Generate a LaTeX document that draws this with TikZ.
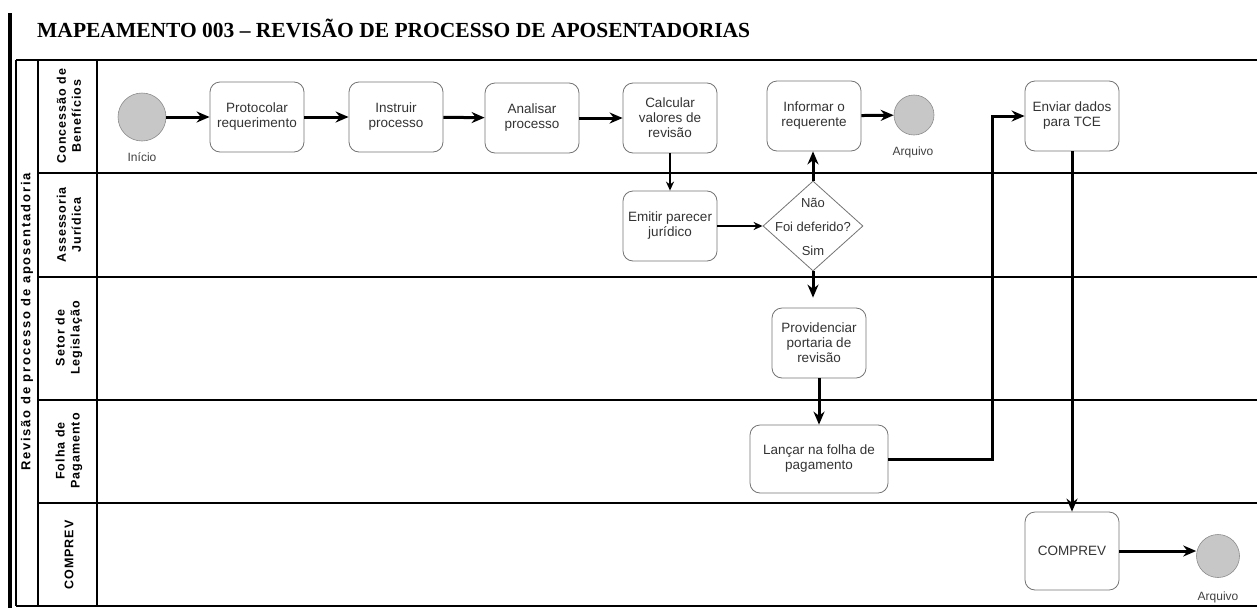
\documentclass[tikz,border=0pt]{standalone}
\usepackage{fontspec}
\setmainfont{Liberation Serif}
\newfontfamily\sansf{Liberation Sans}
\newfontfamily\lanef[LetterSpace=8]{Liberation Sans}
\newfontfamily\poolf[LetterSpace=14]{Liberation Sans}
\usetikzlibrary{shapes.geometric,arrows.meta}
\begin{document}
\begin{tikzpicture}[x=1pt,y=-1pt,
  task/.style={draw=black!55, line width=0.8pt, rounded corners=10pt, minimum width=94pt, minimum height=70pt, align=center, inner sep=2pt, font=\sansf\fontsize{13.5}{15}\selectfont, text=black!80},
  evt/.style={circle, draw=black!45, fill=black!22, line width=0.6pt, inner sep=0pt},
  lbl/.style={font=\sansf\fontsize{12}{13}\selectfont, text=black!75},
  dlbl/.style={font=\sansf\fontsize{13}{14}\selectfont, text=black!80},
  lanelbl/.style={rotate=90, align=center, font=\lanef\bfseries\fontsize{12.5}{15}\selectfont},
  flow/.style={line width=3pt, -{Stealth[length=13pt,width=11pt]}},
  thinflow/.style={line width=1.5pt, -{Stealth[length=9pt,width=8pt]}},
  sepline/.style={line width=2pt}]
\useasboundingbox (0,0) rectangle (1257,608);
% title
\node[anchor=base west, inner sep=0pt, font=\bfseries\fontsize{21.5}{24}\selectfont] (title) at (37,37) {MAPEAMENTO 003 -- REVISÃO DE PROCESSO DE APOSENTADORIAS};
% left thick border
\draw[line width=3.5pt] (10,13) -- (10,608);
% pool
\foreach \yy in {60,606} \draw[sepline] (16,\yy) -- (1257,\yy);
\foreach \yy in {173,277,400,503} \draw[sepline] (38,\yy) -- (1257,\yy);
\foreach \xx in {16,38,97} \draw[sepline] (\xx,60) -- (\xx,606);
\node[rotate=90, font=\poolf\bfseries\fontsize{13}{15}\selectfont] (pool) at (27,322) {Revisão de processo de aposentadoria};
\node[lanelbl] (l1) at (69,116) {Concessão de\\Benefícios};
\node[lanelbl] (l2) at (69,225) {Assessoria\\Jurídica};
\node[lanelbl] (l3) at (69,338) {Setor de\\Legislação};
\node[lanelbl] (l4) at (69,451) {Folha de\\Pagamento};
\node[lanelbl] (l5) at (69,555) {COMPREV};
% nodes
\node[evt, minimum size=48pt] (ini) at (142,117) {};
\node[lbl] (inil) at (142,157) {Início};
\node[task] (prot) at (257,117) {Protocolar\\requerimento};
\node[task] (instr) at (396,117) {Instruir\\processo};
\node[task] (anal) at (532,118) {Analisar\\processo};
\node[task] (calc) at (670,118) {Calcular\\valores de\\revisão};
\node[task] (info) at (814,116) {Informar o\\requerente};
\node[evt, minimum size=40pt] (arq1) at (914,115) {};
\node[lbl] (arq1l) at (913,152) {Arquivo};
\node[task] (env) at (1072,116) {Enviar dados\\para TCE};
\node[task] (emit) at (670,226) {Emitir parecer\\jurídico};
\node[diamond, draw=black!55, line width=0.8pt, minimum width=100pt, minimum height=90pt, inner sep=0pt] (dia) at (813,226) {};
\node[dlbl] (nao) at (813,203) {Não};
\node[dlbl] (foi) at (813,227) {Foi deferido?};
\node[dlbl] (sim) at (813,251) {Sim};
\node[task] (prov) at (819,343) {Providenciar\\portaria de\\revisão};
\node[task, minimum width=138pt, minimum height=68pt] (lanc) at (819,459) {Lançar na folha de\\pagamento};
\node[task, minimum height=78pt] (comp) at (1072,551) {COMPREV};
\node[evt, minimum size=43pt] (arq2) at (1218,556) {};
\node[lbl] (arq2l) at (1218,597) {Arquivo};
\coordinate (b1) at (992,459);
% connectors
\draw[flow] (ini) -- (prot);
\draw[flow] (prot) -- (instr);
\draw[flow] (instr) -- (anal);
\draw[flow] (anal) -- (calc);
\draw[thinflow] (calc) -- (emit);
\draw[thinflow] (emit) -- (dia);
\draw[flow] (dia.north) -- (dia.north |- info.south);
\draw[flow] (info) -- (arq1);
\draw[flow, shorten >=10pt] (dia.south) -- (dia.south |- prov.north);
\draw[flow] (prov) -- (lanc);
\draw[flow] (lanc.east) -- (b1) |- (env.west);
\draw[flow] (env) -- (comp);
\draw[flow] (comp.east) -- (comp.east -| arq2.west);
\end{tikzpicture}
\end{document}
